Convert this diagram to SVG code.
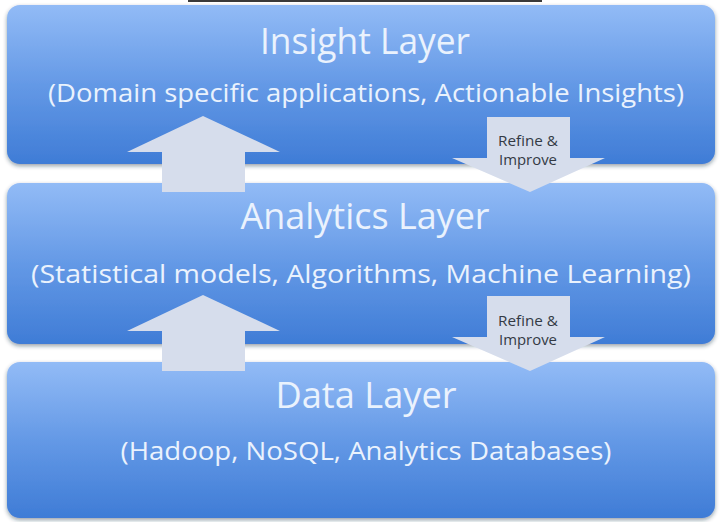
<svg xmlns="http://www.w3.org/2000/svg" width="721" height="522" viewBox="0 0 721 522">
<defs>
<linearGradient id="layerGrad" x1="0" y1="0" x2="0" y2="1">
<stop offset="0" stop-color="#92bbf6"/>
<stop offset="0.5" stop-color="#6499e6"/>
<stop offset="1" stop-color="#3f7cd6"/>
</linearGradient>
<filter id="shadow" x="-5%" y="-10%" width="110%" height="125%">
<feDropShadow dx="0" dy="2" stdDeviation="2" flood-color="#1a2a40" flood-opacity="0.45"/>
</filter>
</defs>
<style>
.box{fill:url(#layerGrad);filter:url(#shadow);}
.title{font-family:"Open Sans","Noto Sans",sans-serif;font-size:37px;fill:#eaf2fd;text-anchor:middle;}
.sub{font-family:"Open Sans","Noto Sans",sans-serif;font-size:26px;fill:#eaf2fd;text-anchor:middle;}
.arrow{fill:#d6ddec;}
.lbl{font-family:"Open Sans","Noto Sans",sans-serif;font-size:15px;fill:#333a44;text-anchor:middle;}
</style>
<rect x="0" y="0" width="721" height="522" fill="#ffffff"/>
<rect x="188" y="0" width="354" height="2" fill="#3a3a3a"/>
<g id="insight-layer">
<rect class="box" x="7" y="5" width="708" height="159" rx="13"/>
<text class="title" x="365" y="54" textLength="210" lengthAdjust="spacingAndGlyphs">Insight Layer</text>
<text class="sub" x="366" y="102" textLength="636" lengthAdjust="spacingAndGlyphs">(Domain specific applications, Actionable Insights)</text>
</g>
<g id="analytics-layer">
<rect class="box" x="7" y="183" width="708" height="161" rx="13"/>
<text class="title" x="365" y="229" textLength="249" lengthAdjust="spacingAndGlyphs">Analytics Layer</text>
<text class="sub" x="361" y="283" textLength="660" lengthAdjust="spacingAndGlyphs">(Statistical models, Algorithms, Machine Learning)</text>
</g>
<g id="data-layer">
<rect class="box" x="7" y="362" width="708" height="156" rx="13"/>
<text class="title" x="366" y="408" textLength="181" lengthAdjust="spacingAndGlyphs">Data Layer</text>
<text class="sub" x="366" y="460" textLength="491" lengthAdjust="spacingAndGlyphs">(Hadoop, NoSQL, Analytics Databases)</text>
</g>
<g id="connectors">
<polygon class="arrow" points="203,116 280,152 245,152 245,192 162,192 162,152 127,152"/>
<polygon class="arrow" points="203,295 280,331 245,331 245,371 162,371 162,331 127,331"/>
<polygon class="arrow" points="487,117 570,117 570,158 605,158 530,192 452,158 487,158"/>
<polygon class="arrow" points="487,296 570,296 570,337 605,337 530,371 452,337 487,337"/>
<text class="lbl" x="528" y="146" textLength="60" lengthAdjust="spacingAndGlyphs">Refine &amp;</text>
<text class="lbl" x="528" y="165" textLength="58" lengthAdjust="spacingAndGlyphs">Improve</text>
<text class="lbl" x="528" y="326" textLength="60" lengthAdjust="spacingAndGlyphs">Refine &amp;</text>
<text class="lbl" x="528" y="345" textLength="58" lengthAdjust="spacingAndGlyphs">Improve</text>
</g>
</svg>
